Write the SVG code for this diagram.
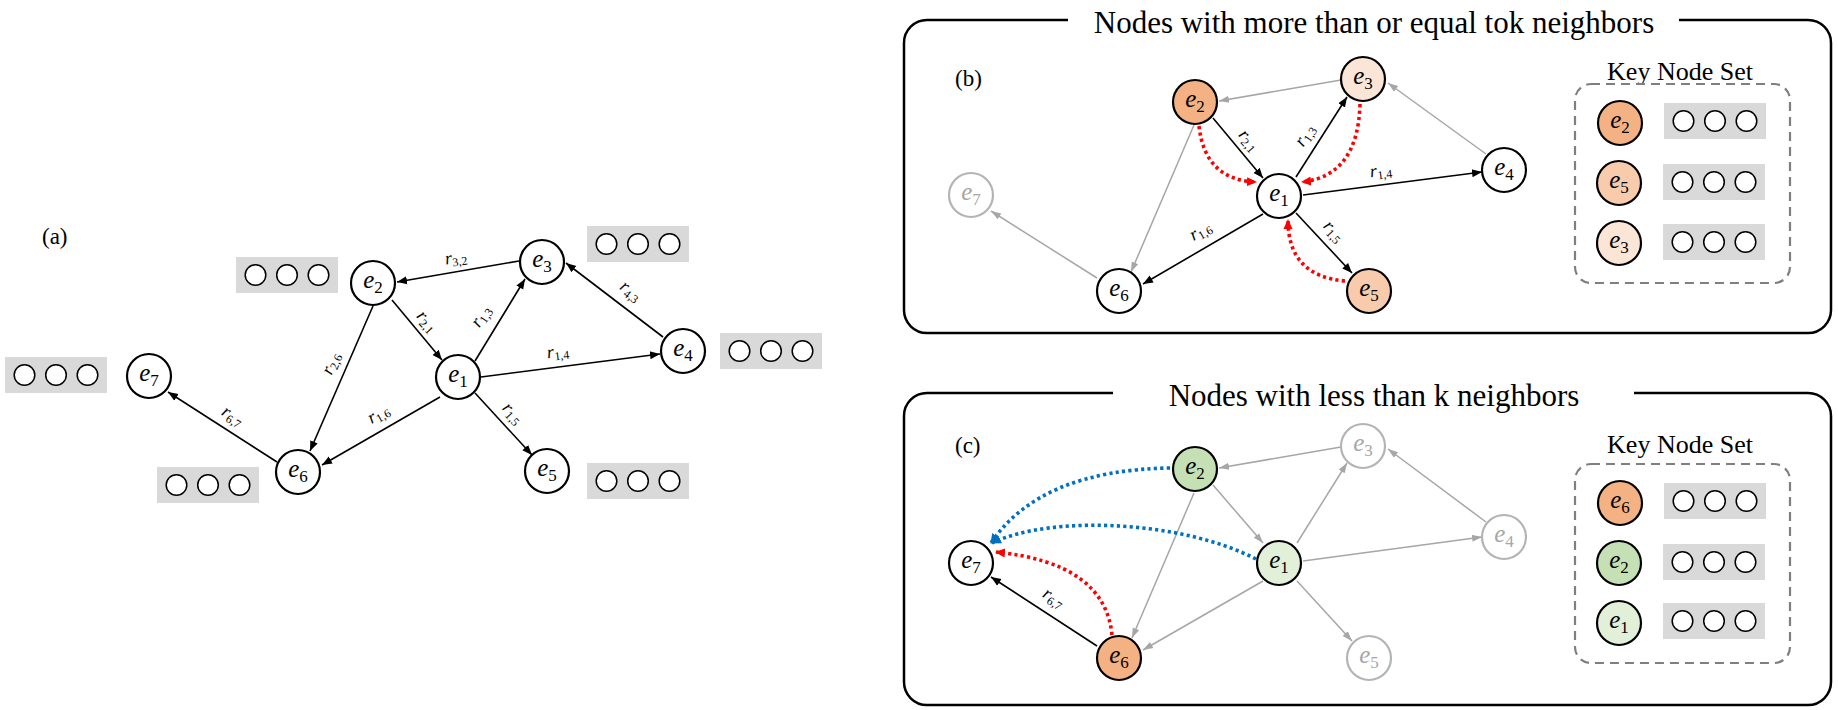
<svg xmlns="http://www.w3.org/2000/svg" xmlns:xlink="http://www.w3.org/1999/xlink" width="1838" height="710" viewBox="0 0 1838 710">
<style>
.bg{fill:#fff}
.nd{fill:#fff;stroke:#000;stroke-width:2.2}
.ndg{fill:#fff;stroke:#B4B4B4;stroke-width:2.2}
.o1{fill:#F4B183}.o2{fill:#F8CBAD}.o3{fill:#FBE5D6}.g1{fill:#C5E0B4}.g2{fill:#E2F0D9}
.nl{font-family:"Liberation Serif",serif;font-style:italic;font-size:25px;text-anchor:middle;fill:#000}
.nlg{fill:#A6A6A6}
.ns{font-style:normal;font-size:17px}
.rl{font-family:"Liberation Serif",serif;font-style:italic;font-size:18px;text-anchor:middle;fill:#000}
.rs{font-style:normal;font-size:12px}
.ttl{font-family:"Liberation Serif",serif;font-size:31px;text-anchor:middle;fill:#000}
.key{font-family:"Liberation Serif",serif;font-size:26px;text-anchor:middle;fill:#000}
.pl{font-family:"Liberation Serif",serif;font-size:23px;fill:#000}
.e{fill:none;stroke:#000;stroke-width:1.6;marker-end:url(#ab)}
.eg{fill:none;stroke:#A6A6A6;stroke-width:1.5;marker-end:url(#ag)}
.dr{fill:none;stroke:#FF0000;stroke-width:3.6;stroke-dasharray:3.2 3.2;marker-end:url(#ar)}
.db{fill:none;stroke:#0070C0;stroke-width:3.6;stroke-dasharray:3.2 3.2;marker-end:url(#abl)}
.frame{fill:none;stroke:#000;stroke-width:2.5}
.dash{fill:none;stroke:#7F7F7F;stroke-width:2.2;stroke-dasharray:9 6}
.mc{fill:#fff;stroke:#000;stroke-width:1.5}
</style>
<defs>
<marker id="ab" markerUnits="userSpaceOnUse" viewBox="0 0 10 10" markerWidth="10" markerHeight="10" refX="10" refY="5" orient="auto"><path d="M0,1 L10,5 L0,9 z" fill="#000"/></marker>
<marker id="ag" markerUnits="userSpaceOnUse" viewBox="0 0 10 10" markerWidth="10" markerHeight="10" refX="10" refY="5" orient="auto"><path d="M0,1.5 L10,5 L0,8.5 z" fill="#A6A6A6"/></marker>
<marker id="ar" markerUnits="userSpaceOnUse" viewBox="0 0 10 10" markerWidth="10" markerHeight="10" refX="9" refY="5" orient="auto"><path d="M0,0.5 L10,5 L0,9.5 z" fill="#FF0000"/></marker>
<marker id="abl" markerUnits="userSpaceOnUse" viewBox="0 0 10 10" markerWidth="10" markerHeight="10" refX="9" refY="5" orient="auto"><path d="M0,0.5 L10,5 L0,9.5 z" fill="#0070C0"/></marker>
<g id="mem"><rect x="0" y="0" width="102" height="36" fill="#D9D9D9"/><circle class="mc" cx="19.5" cy="18" r="10.3"/><circle class="mc" cx="51" cy="18" r="10.3"/><circle class="mc" cx="82.5" cy="18" r="10.3"/></g>
</defs>
<rect class="bg" x="0" y="0" width="1838" height="710"/>

<!-- Panel (a) -->
<g id="panel-a">
<text class="pl" x="42" y="244">(a)</text>
<g id="a-connectors">
<line class="e" x1="519" y1="261" x2="397" y2="282"/>
<line class="e" x1="392" y1="300" x2="442" y2="360"/>
<line class="e" x1="373" y1="306" x2="310" y2="451"/>
<line class="e" x1="475" y1="361" x2="525" y2="279"/>
<line class="e" x1="663" y1="337" x2="566" y2="263"/>
<line class="e" x1="481" y1="377" x2="660" y2="354"/>
<line class="e" x1="475" y1="393" x2="532" y2="455"/>
<line class="e" x1="440" y1="397" x2="322" y2="465"/>
<line class="e" x1="277" y1="462" x2="168" y2="392"/>
<text class="rl" transform="translate(456,259) rotate(-8)" y="4">r<tspan class="rs" dy="3">3,2</tspan></text>
<text class="rl" transform="translate(426,322) rotate(48)" y="4">r<tspan class="rs" dy="3">2,1</tspan></text>
<text class="rl" transform="translate(482,317) rotate(-56)" y="4">r<tspan class="rs" dy="3">1,3</tspan></text>
<text class="rl" transform="translate(558,353) rotate(-7)" y="4">r<tspan class="rs" dy="3">1,4</tspan></text>
<text class="rl" transform="translate(512,414) rotate(47)" y="4">r<tspan class="rs" dy="3">1,5</tspan></text>
<text class="rl" transform="translate(379,415) rotate(-30)" y="4">r<tspan class="rs" dy="3">1,6</tspan></text>
<text class="rl" transform="translate(332,364) rotate(-67)" y="4">r<tspan class="rs" dy="3">2,6</tspan></text>
<text class="rl" transform="translate(232,417) rotate(33)" y="4">r<tspan class="rs" dy="3">6,7</tspan></text>
<text class="rl" transform="translate(630,292) rotate(37)" y="4">r<tspan class="rs" dy="3">4,3</tspan></text>
</g>
<g id="a-e1"><circle class="nd" cx="458" cy="377" r="22"/><text class="nl" x="458" y="382">e<tspan class="ns" dy="5">1</tspan></text></g>
<g id="a-e2"><use xlink:href="#mem" x="236" y="257"/><circle class="nd" cx="373" cy="283" r="22"/><text class="nl" x="373" y="288">e<tspan class="ns" dy="5">2</tspan></text></g>
<g id="a-e3"><use xlink:href="#mem" x="587" y="226"/><circle class="nd" cx="542" cy="262" r="22"/><text class="nl" x="542" y="267">e<tspan class="ns" dy="5">3</tspan></text></g>
<g id="a-e4"><use xlink:href="#mem" x="720" y="333"/><circle class="nd" cx="683" cy="351" r="22"/><text class="nl" x="683" y="356">e<tspan class="ns" dy="5">4</tspan></text></g>
<g id="a-e5"><use xlink:href="#mem" x="587" y="463"/><circle class="nd" cx="547" cy="471" r="22"/><text class="nl" x="547" y="476">e<tspan class="ns" dy="5">5</tspan></text></g>
<g id="a-e6"><use xlink:href="#mem" x="157" y="467"/><circle class="nd" cx="298" cy="472" r="22"/><text class="nl" x="298" y="477">e<tspan class="ns" dy="5">6</tspan></text></g>
<g id="a-e7"><use xlink:href="#mem" x="5" y="357"/><circle class="nd" cx="149" cy="376" r="22"/><text class="nl" x="149" y="381">e<tspan class="ns" dy="5">7</tspan></text></g>
</g>

<!-- Panel (b) -->
<g id="panel-b">
<path class="frame" d="M1068,20 H927 A23,23 0 0 0 904,43 V310 A23,23 0 0 0 927,333 H1808 A23,23 0 0 0 1831,310 V43 A23,23 0 0 0 1808,20 H1679"/>
<text class="ttl" x="1374" y="33">Nodes with more than or equal tok neighbors</text>
<text class="pl" x="955" y="86">(b)</text>
<g id="b-connectors">
<line class="eg" x1="1341" y1="80" x2="1219" y2="101"/>
<line class="eg" x1="1194" y1="125" x2="1131" y2="272"/>
<line class="eg" x1="1486" y1="154" x2="1388" y2="83"/>
<line class="eg" x1="1097" y1="278" x2="991" y2="211"/>
<line class="e" x1="1213" y1="118" x2="1263" y2="178"/>
<line class="e" x1="1296" y1="177" x2="1347" y2="97"/>
<line class="e" x1="1303" y1="195" x2="1482" y2="172"/>
<line class="e" x1="1296" y1="213" x2="1352" y2="273"/>
<line class="e" x1="1263" y1="214" x2="1143" y2="284"/>
<path class="dr" d="M1199,126 Q1205,180 1256,182"/>
<path class="dr" d="M1360,104 Q1358,176 1302,182"/>
<path class="dr" d="M1345,281 Q1288,276 1288,220"/>
<text class="rl" transform="translate(1248,141) rotate(49)" y="4">r<tspan class="rs" dy="3">2,1</tspan></text>
<text class="rl" transform="translate(1306,136) rotate(-57)" y="4">r<tspan class="rs" dy="3">1,3</tspan></text>
<text class="rl" transform="translate(1381,172) rotate(-7)" y="4">r<tspan class="rs" dy="3">1,4</tspan></text>
<text class="rl" transform="translate(1333,232) rotate(47)" y="4">r<tspan class="rs" dy="3">1,5</tspan></text>
<text class="rl" transform="translate(1201,232) rotate(-30)" y="4">r<tspan class="rs" dy="3">1,6</tspan></text>
</g>
<g id="b-e1"><circle class="nd" cx="1279" cy="196" r="22"/><text class="nl" x="1279" y="201">e<tspan class="ns" dy="5">1</tspan></text></g>
<g id="b-e2"><circle class="nd o1" cx="1195" cy="102" r="22"/><text class="nl" x="1195" y="107">e<tspan class="ns" dy="5">2</tspan></text></g>
<g id="b-e3"><circle class="nd o3" cx="1363" cy="79" r="22"/><text class="nl" x="1363" y="84">e<tspan class="ns" dy="5">3</tspan></text></g>
<g id="b-e4"><circle class="nd" cx="1504" cy="170" r="22"/><text class="nl" x="1504" y="175">e<tspan class="ns" dy="5">4</tspan></text></g>
<g id="b-e5"><circle class="nd o2" cx="1369" cy="291" r="22"/><text class="nl" x="1369" y="296">e<tspan class="ns" dy="5">5</tspan></text></g>
<g id="b-e6"><circle class="nd" cx="1119" cy="291" r="22"/><text class="nl" x="1119" y="296">e<tspan class="ns" dy="5">6</tspan></text></g>
<g id="b-e7"><circle class="ndg" cx="971" cy="195" r="22"/><text class="nl nlg" x="971" y="200">e<tspan class="ns" dy="5">7</tspan></text></g>
<g id="b-keyset">
<text class="key" x="1680" y="80">Key Node Set</text>
<rect class="dash" x="1575" y="84" width="215" height="199" rx="16"/>
<g id="b-key-e2"><circle class="nd o1" cx="1620" cy="123" r="22"/><text class="nl" x="1620" y="128">e<tspan class="ns" dy="5">2</tspan></text><use xlink:href="#mem" x="1664" y="103"/></g>
<g id="b-key-e5"><circle class="nd o2" cx="1619" cy="183" r="22"/><text class="nl" x="1619" y="188">e<tspan class="ns" dy="5">5</tspan></text><use xlink:href="#mem" x="1663" y="164"/></g>
<g id="b-key-e3"><circle class="nd o3" cx="1619" cy="243" r="22"/><text class="nl" x="1619" y="248">e<tspan class="ns" dy="5">3</tspan></text><use xlink:href="#mem" x="1663" y="224"/></g>
</g>
</g>

<!-- Panel (c) -->
<g id="panel-c">
<path class="frame" d="M1113,393 H927 A23,23 0 0 0 904,416 V682 A23,23 0 0 0 927,705 H1808 A23,23 0 0 0 1831,682 V416 A23,23 0 0 0 1808,393 H1634"/>
<text class="ttl" x="1374" y="406">Nodes with less than k neighbors</text>
<text class="pl" x="955" y="453">(c)</text>
<g id="c-connectors">
<line class="eg" x1="1341" y1="447" x2="1219" y2="468"/>
<line class="eg" x1="1213" y1="485" x2="1263" y2="543"/>
<line class="eg" x1="1194" y1="493" x2="1132" y2="638"/>
<line class="eg" x1="1297" y1="543" x2="1347" y2="463"/>
<line class="eg" x1="1486" y1="522" x2="1388" y2="449"/>
<line class="eg" x1="1303" y1="561" x2="1482" y2="537"/>
<line class="eg" x1="1297" y1="581" x2="1352" y2="641"/>
<line class="eg" x1="1263" y1="581" x2="1143" y2="650"/>
<line class="e" x1="1097" y1="646" x2="991" y2="577"/>
<path class="db" d="M1170,468 Q1040,470 991,543"/>
<path class="db" d="M1256,559 C1180,520 1050,515 992,543"/>
<path class="dr" d="M1112,635 Q1105,563 996,552"/>
<text class="rl" transform="translate(1053,599) rotate(33)" y="4">r<tspan class="rs" dy="3">6,7</tspan></text>
</g>
<g id="c-e1"><circle class="nd g2" cx="1279" cy="563" r="22"/><text class="nl" x="1279" y="568">e<tspan class="ns" dy="5">1</tspan></text></g>
<g id="c-e2"><circle class="nd g1" cx="1195" cy="469" r="22"/><text class="nl" x="1195" y="474">e<tspan class="ns" dy="5">2</tspan></text></g>
<g id="c-e3"><circle class="ndg" cx="1363" cy="446" r="22"/><text class="nl nlg" x="1363" y="451">e<tspan class="ns" dy="5">3</tspan></text></g>
<g id="c-e4"><circle class="ndg" cx="1504" cy="537" r="22"/><text class="nl nlg" x="1504" y="542">e<tspan class="ns" dy="5">4</tspan></text></g>
<g id="c-e5"><circle class="ndg" cx="1369" cy="658" r="22"/><text class="nl nlg" x="1369" y="663">e<tspan class="ns" dy="5">5</tspan></text></g>
<g id="c-e6"><circle class="nd o1" cx="1119" cy="658" r="22"/><text class="nl" x="1119" y="663">e<tspan class="ns" dy="5">6</tspan></text></g>
<g id="c-e7"><circle class="nd" cx="971" cy="563" r="22"/><text class="nl" x="971" y="568">e<tspan class="ns" dy="5">7</tspan></text></g>
<g id="c-keyset">
<text class="key" x="1680" y="453">Key Node Set</text>
<rect class="dash" x="1575" y="464" width="215" height="199" rx="16"/>
<g id="c-key-e6"><circle class="nd o1" cx="1620" cy="503" r="22"/><text class="nl" x="1620" y="508">e<tspan class="ns" dy="5">6</tspan></text><use xlink:href="#mem" x="1664" y="483"/></g>
<g id="c-key-e2"><circle class="nd g1" cx="1619" cy="563" r="22"/><text class="nl" x="1619" y="568">e<tspan class="ns" dy="5">2</tspan></text><use xlink:href="#mem" x="1663" y="544"/></g>
<g id="c-key-e1"><circle class="nd g2" cx="1619" cy="623" r="22"/><text class="nl" x="1619" y="628">e<tspan class="ns" dy="5">1</tspan></text><use xlink:href="#mem" x="1663" y="603"/></g>
</g>
</g>
</svg>
